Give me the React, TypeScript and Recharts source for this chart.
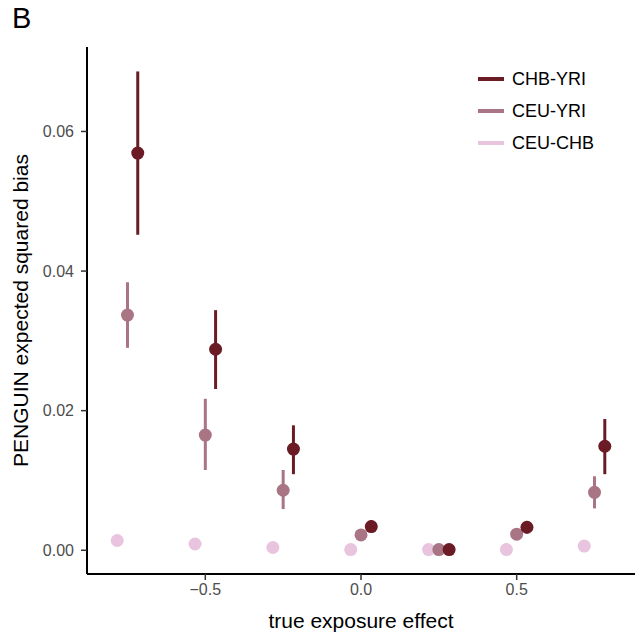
import React from "react";
import { ScatterChart, Scatter, XAxis, YAxis, ErrorBar, Label } from "recharts";

const FONT = "'Liberation Sans', Arial, Helvetica, sans-serif";

// true exposure effect groups
const exposures = [-0.75, -0.5, -0.25, 0, 0.25, 0.5, 0.75];

// PENGUIN expected squared bias
const chbYriMean = [0.0569, 0.0288, 0.0145, 0.0034, 0.0001, 0.0033, 0.0149];
const chbYriLow = [0.0452, 0.0231, 0.0109, 0.0026, 0.0, 0.0024, 0.0109];
const chbYriHigh = [0.0686, 0.0344, 0.0179, 0.0043, 0.0002, 0.0042, 0.0188];

const ceuYriMean = [0.0337, 0.0165, 0.0086, 0.0022, 0.0001, 0.0023, 0.0083];
const ceuYriLow = [0.029, 0.0115, 0.0059, 0.0018, 0.0, 0.0019, 0.006];
const ceuYriHigh = [0.0384, 0.0217, 0.0115, 0.0026, 0.0002, 0.0027, 0.0106];

const ceuChbMean = [0.0014, 0.0009, 0.0004, 0.0001, 0.0001, 0.0001, 0.0006];
const ceuChbLow = [0.0012, 0.0008, 0.0003, 0.0, 0.0, 0.0, 0.0005];
const ceuChbHigh = [0.0016, 0.001, 0.0005, 0.0002, 0.0002, 0.0002, 0.0007];

const xTicks = [-0.5, 0, 0.5];
const yTicks = [0, 0.02, 0.04, 0.06];

const DODGE = 0.033;

function build(mean: number[], low: number[], high: number[], offset: number) {
  return exposures.map((e, i) => ({
    x: e + offset,
    y: mean[i],
    err: [mean[i] - low[i], high[i] - mean[i]],
  }));
}

const series = [
  { name: "CEU-CHB", color: "#e9c4de", data: build(ceuChbMean, ceuChbLow, ceuChbHigh, -DODGE) },
  { name: "CEU-YRI", color: "#a97483", data: build(ceuYriMean, ceuYriLow, ceuYriHigh, 0) },
  { name: "CHB-YRI", color: "#6b1b24", data: build(chbYriMean, chbYriLow, chbYriHigh, DODGE) },
];

const fmtX = (v: number) => (v < 0 ? "\u2212" + Math.abs(v).toFixed(1) : v.toFixed(1));

const LegendBox = () => (
  <div
    style={{
      position: "absolute",
      left: 478,
      top: 63,
      fontFamily: FONT,
      fontSize: 18,
      color: "#000",
    }}
  >
    {[...series].reverse().map((s) => (
      <div key={s.name} style={{ display: "flex", alignItems: "center", height: 32 }}>
        <div style={{ width: 26, height: 4, background: s.color, marginRight: 8 }} />
        <span>{s.name}</span>
      </div>
    ))}
  </div>
);

export default function App() {
  return (
    <div style={{ position: "absolute", left: 0, top: 0, width: 638, height: 634, background: "#fff" }}>
      <ScatterChart width={638} height={634} margin={{ top: 47, right: 3, left: 0, bottom: 0 }}>
        <XAxis
          type="number"
          dataKey="x"
          domain={[-0.88, 0.88]}
          ticks={xTicks}
          tickFormatter={fmtX}
          allowDataOverflow
          height={60}
          axisLine={{ stroke: "#000", strokeWidth: 2 }}
          tickLine={{ stroke: "#333", strokeWidth: 1.5 }}
          tickSize={6}
          tickMargin={4}
          tick={{ fill: "#4d4d4d", fontSize: 16, fontFamily: FONT }}
        >
          <Label
            value="true exposure effect"
            position="insideBottom"
            offset={6}
            style={{ fill: "#000", fontSize: 21, fontFamily: FONT }}
          />
        </XAxis>
        <YAxis
          type="number"
          dataKey="y"
          domain={[-0.0034, 0.0721]}
          ticks={yTicks}
          tickFormatter={(v: number) => v.toFixed(2)}
          allowDataOverflow
          width={87}
          axisLine={{ stroke: "#000", strokeWidth: 2 }}
          tickLine={{ stroke: "#333", strokeWidth: 1.5 }}
          tickSize={6}
          tickMargin={7}
          tick={{ fill: "#4d4d4d", fontSize: 16, fontFamily: FONT }}
        >
          <Label
            value="PENGUIN expected squared bias"
            angle={-90}
            position="center"
            dx={-23}
            style={{ fill: "#000", fontSize: 21, fontFamily: FONT, textAnchor: "middle" }}
          />
        </YAxis>
        {series.map((s) => (
          <Scatter
            key={s.name}
            name={s.name}
            data={s.data}
            fill={s.color}
            isAnimationActive={false}
            shape={(p: any) => <circle cx={p.cx} cy={p.cy} r={6.5} fill={s.color} />}
          >
            <ErrorBar dataKey="err" direction="y" width={0} strokeWidth={3} stroke={s.color} />
          </Scatter>
        ))}
      </ScatterChart>
      <div style={{ position: "absolute", left: 12, top: 2, fontFamily: FONT, fontSize: 29, color: "#000" }}>
        B
      </div>
      <LegendBox />
    </div>
  );
}
